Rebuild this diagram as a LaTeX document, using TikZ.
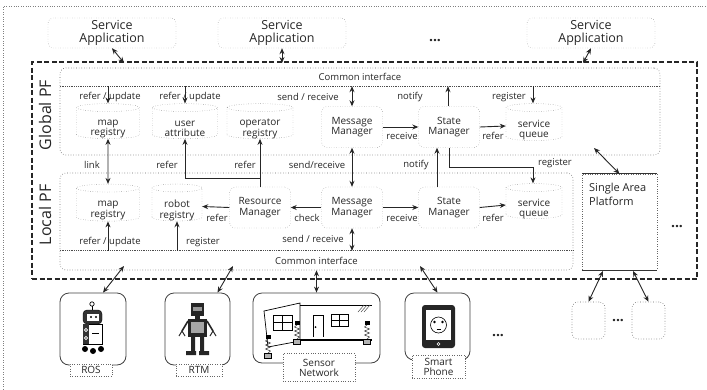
\documentclass[tikz,border=0pt]{standalone}
\usepackage{fontspec}
\setmainfont{Open Sans}
\usetikzlibrary{shapes.geometric,arrows.meta}

\begin{document}
\begin{tikzpicture}[x=1pt, y=-1pt, >={Stealth[length=6pt,width=5pt]},
	every node/.style={font=\fontsize{9.5}{10}\selectfont, text=black!85, inner sep=0pt},
	app/.style={draw=black!60, dotted, rounded corners=5pt, minimum width=128pt, minimum height=30pt, align=center, font=\fontsize{12.5}{13}\selectfont},
	area/.style={draw=black!60, dotted, line width=0.6pt, rounded corners=6pt},
	db/.style={cylinder, shape border rotate=90, aspect=0.22, inner xsep=18pt, draw=black!60, dotted, label={[align=center, font=\fontsize{10}{10.5}\selectfont, yshift=-4pt]center:{#1}}},
	mgr/.style={draw=black!60, dotted, rounded corners=6pt, minimum width=61pt, minimum height=41pt, align=center, font=\fontsize{10}{10.5}\selectfont},
	dev/.style={draw=black!75, line width=0.8pt, rounded corners=9pt},
	tag/.style={draw=black!60, dotted, fill=white, align=center, font=\fontsize{10}{10}\selectfont},
	conn/.style={black!85, line width=0.9pt},
	ifline/.style={black!70, densely dotted, line width=0.8pt},
	more/.style={font=\fontsize{14}{14}\bfseries}]
	\useasboundingbox (0,0) rectangle (707,389);
	\draw[black!50, dotted] (3,389) -- (3,6) -- (707,6);

	\node[app] (sa1) at (112,33) {Service\\Application};
	\node[app] (sa2) at (282,33) {Service\\Application};
	\node[app] (sa3) at (591,33) {Service\\Application};
	\node[more] (dots1) at (435,41) {...};

	\node[draw=black!85, line width=1.6pt, dash pattern=on 5pt off 2.5pt, minimum width=665pt, minimum height=217pt] (pf) at (364.5,170.5) {};

	\node[area, minimum width=600pt, minimum height=87pt] (gpf) at (360,111.5) {};
	\node[rotate=90, font=\fontsize{16}{16}\selectfont] (gname) at (45,115) {Global PF};
	\node[minimum width=600pt, minimum height=18pt] (gci) at (360,77) {Common interface};
	\draw[ifline] (gci.south west) -- (gci.south east);
	\node[db={map\\registry}, minimum width=63pt, minimum height=35pt] (gmap) at (108,125) {};
	\node[db={user\\attribute}, minimum width=65pt, minimum height=35pt] (guser) at (185,125) {};
	\node[db={operator\\registry}, minimum width=66pt, minimum height=35pt] (gop) at (260,125) {};
	\node[mgr] (gmsg) at (352,127) {Message\\Manager};
	\node[mgr] (gstate) at (449,127) {State\\Manager};
	\node[db={service\\queue}, minimum width=56pt, minimum height=37pt] (gqueue) at (534,126) {};

	\node[area, minimum width=513pt, minimum height=97pt] (lpf) at (316.5,221.5) {};
	\node[rotate=90, font=\fontsize{16}{16}\selectfont] (lname) at (45,215) {Local PF};
	\node[minimum width=513pt, minimum height=20pt] (lci) at (316.5,261) {Common interface};
	\draw[ifline] (lci.north west) -- (lci.north east);
	\node[db={map\\registry}, minimum width=63pt, minimum height=37pt] (lmap) at (108,206.5) {};
	\node[db={robot\\registry}, minimum width=50pt, minimum height=37pt] (lrobot) at (177,206.5) {};
	\node[mgr] (lres) at (260,207.5) {Resource\\Manager};
	\node[mgr] (lmsg) at (352,207.5) {Message\\Manager};
	\node[mgr] (lstate) at (449,207.5) {State\\Manager};
	\node[db={service\\queue}, minimum width=56pt, minimum height=35pt] (lqueue) at (534,205) {};

	\node[draw=black!60, dotted, minimum width=75pt, minimum height=96pt] (sap) at (619.5,222) {};
	\draw[black!80, line width=0.8pt] (sap.north west) -- (sap.north east) (sap.south west) -- (sap.south east);
	\node[anchor=north west, align=left, font=\fontsize{11}{14}\selectfont] (saptext) at (589,183) {Single Area\\Platform};
	\node[more] (dots4) at (677,227) {...};

	\node (t1) at (110,97) {refer / update};
	\node (t2) at (190,97) {refer / update};
	\node (t3) at (308,97) {send / receive};
	\node (t4) at (410,97) {notify};
	\node (t5) at (509,97) {register};
	\node (t6) at (402,136) {receive};
	\node (t7) at (493,136) {refer};
	\node (t8) at (92,165) {link};
	\node (t9) at (167,165) {refer};
	\node (t10) at (245,165) {refer};
	\node (t11) at (317,165) {send/receive};
	\node (t12) at (416,165) {notify};
	\node (t13) at (555,163) {register};
	\node (t14) at (217,218) {refer};
	\node (t15) at (307,218) {check};
	\node (t16) at (402,218) {receive};
	\node (t17) at (493,218) {refer};
	\node (t18) at (110,242) {refer / update};
	\node (t19) at (203,242) {register};
	\node (t20) at (313,239) {send / receive};

	\draw[conn,->] (gmap.north |- gci.south) -- (gmap.north);
	\draw[conn,->] (guser.north |- gci.south) -- (guser.north);
	\draw[conn,<->] (gmsg.north |- gci.south) -- (gmsg.north);
	\draw[conn,->] ([xshift=-1pt]gstate.north) -- ([xshift=-1pt]gstate.north |- gci.south);
	\draw[conn,->] ([xshift=-1pt]gqueue.north |- gci.south) -- ([xshift=-1pt]gqueue.north);
	\draw[conn,->] (gmsg.east) -- (gstate.west);
	\draw[conn,->] (gstate.east) -- (gqueue.west);

	\coordinate (rbend) at (260,178);
	\draw[conn,<->] (gmap.south) -- (lmap.north);
	\draw[conn,->] (lres.north) -- (gop.south);
	\draw[conn,->] (rbend) -| (guser.south);
	\draw[conn,<->] (gmsg.south) -- (lmsg.north);
	\draw[conn,->] ([xshift=-12pt]lstate.north) -- ([xshift=-12pt]gstate.south);
	\draw[conn,->] (gstate.south) -- ++(0,20) -| ([xshift=-1pt]lqueue.north);

	\draw[conn,->] (lres.west) -- (lrobot.east);
	\draw[conn,->] (lmsg.west) -- (lres.east);
	\draw[conn,->] (lmsg.east) -- (lstate.west);
	\draw[conn,->] (lstate.east) -- (lqueue.west);
	\draw[conn,->] (lmap.south |- lci.north) -- (lmap.south);
	\draw[conn,->] (lrobot.south |- lci.north) -- (lrobot.south);
	\draw[conn,<->] (lmsg.south) -- (lmsg.south |- lci.north);

	\node[dev, minimum width=66pt, minimum height=72pt] (ros) at (93,329) {};
	\node[dev, minimum width=65pt, minimum height=72pt] (rtm) at (197.5,329) {};
	\node[dev, minimum width=127pt, minimum height=70pt] (sensor) at (316.5,328) {};
	\node[dev, minimum width=65pt, minimum height=67pt] (phone) at (437.5,326.5) {};
	\node[more] (dots2) at (498,336) {...};
	\node[area, minimum width=33pt, minimum height=37pt] (sub1) at (588.5,320.5) {};
	\node[area, minimum width=33pt, minimum height=37pt] (sub2) at (648.5,320.5) {};
	\node[more] (dots3) at (618,321) {...};

	\draw[black, line width=0.7pt] (92,306) -- (92,310);
	\draw[black, fill=white, line width=0.7pt] (92,304) circle (2.2);
	\draw[black, fill=black!80, rounded corners=4pt] (83,310) rectangle (102,324);
	\fill[white] (87,314) rectangle (99,321);
	\fill[black] (91,317) circle (1.2) (96,317) circle (1.2);
	\draw[black, fill=white, line width=0.7pt] (83,324) rectangle (102,344);
	\fill[black!80] (83,324) rectangle (89,344);
	\draw[white, fill=black!40] (86,330) circle (1.8) (86,338) circle (1.8);
	\draw[black] (92,333) -- (99,333);
	\fill[black] (85,349) circle (3) (93,351) circle (3) (101,349) circle (3);

	\fill[black!85] (191,303) rectangle (204,316);
	\fill[black!40] (193,307) rectangle (202,311);
	\fill[black!85] (195,316) rectangle (200,319);
	\fill[black!85] (188,319) rectangle (207,337);
	\fill[black!35] (191,322) rectangle (204,333);
	\draw[black!85, line width=1.6pt] (188,321) -- (182,331) (207,321) -- (213,331);
	\draw[black!85, line width=1pt] (179,336) -- (182,331) -- (185,336) (210,336) -- (213,331) -- (216,336);
	\fill[black!85] (191,337) rectangle (195,351) (200,337) rectangle (204,351);
	\fill[black!85] (186,351) rectangle (196,355) (199,351) rectangle (209,355);

	\draw[black, fill=white, line width=0.7pt] (264,311) -- (300,303) -- (300,341) -- (268,347) -- cycle;
	\draw[black, line width=0.6pt] (273,315) rectangle (292,330) (282.5,315) -- (282.5,330) (273,322.5) -- (292,322.5);
	\draw[black, line width=0.6pt] (300,305) -- (372,305);
	\draw[black, line width=1.4pt] (300,340) -- (372,340);
	\draw[black, line width=0.6pt] (313,337) -- (313,315) -- (323,315) -- (323,337);
	\fill[black] (315.5,327) circle (1);
	\draw[black, line width=0.6pt] (331,314) rectangle (348,326) (339.5,314) -- (339.5,326) (331,320) -- (348,320);
	\draw[black!70, line width=0.5pt] (358,312) -- (364,305) (361,312) -- (367,305) (364,312) -- (370,305);
	\foreach \sx/\sy in {268/335, 297/321, 367/321} {
		\fill[black] (\sx-2.5,\sy) rectangle (\sx+2.5,\sy+4);
		\draw[black!80, line width=0.5pt] (\sx,\sy+4) -- (\sx-2.5,\sy+6) -- (\sx+2.5,\sy+8) -- (\sx-2.5,\sy+10) -- (\sx+2.5,\sy+12) -- (\sx-2.5,\sy+14) -- (\sx+2.5,\sy+16) -- (\sx,\sy+18);
		\draw[black, fill=black!30, line width=0.6pt] (\sx-3.5,\sy+18) rectangle (\sx+3.5,\sy+23);
	}

	\fill[black!85, rounded corners=3pt] (422,305) rectangle (455,348);
	\fill[white] (426,310) rectangle (451,340);
	\draw[black, line width=0.6pt] (438.5,325) circle (8);
	\fill[black] (434.5,322) circle (1.4) (442.5,322) circle (1.4);
	\draw[black, line width=0.5pt] (436.5,329) -- (440.5,329);
	\draw[white, line width=0.5pt] (438.5,344) circle (1.5);

	\node[tag, minimum width=42pt, minimum height=12pt] (rostag) at (91,370) {ROS};
	\node[tag, minimum width=46pt, minimum height=12pt] (rtmtag) at (199,370) {RTM};
	\node[tag, minimum width=72pt, minimum height=28pt] (sensortag) at (319,367.5) {Sensor\\Network};
	\node[tag, minimum width=53pt, minimum height=23pt] (phonetag) at (438.5,366.5) {Smart\\Phone};

	\coordinate (pa1) at (124,63);
	\coordinate (pa2) at (282,63);
	\coordinate (pa3) at (583,63);
	\coordinate (ga) at (594,148);
	\coordinate (la1) at (124,266);
	\coordinate (la2) at (233,266);
	\coordinate (la4) at (420,266);
	\coordinate (sb1) at (603,271);
	\coordinate (sb2) at (633,271);
	\draw[conn,<->] (sa1.south) -- (pa1);
	\draw[conn,<->] (sa2.south) -- (pa2);
	\draw[conn,<->] (sa3.south) -- (pa3);
	\draw[conn,<->] (ga) -- (sap.north);
	\draw[conn,<->] (la1) -- ([xshift=10pt]ros.north);
	\draw[conn,<->] (la2) -- ([xshift=20pt]rtm.north);
	\draw[conn,<->] (sensor.north |- lpf.south) -- (sensor.north);
	\draw[conn,<->] (la4) -- (phone.north);
	\draw[conn,<->] (sb1) -- (sub1.north);
	\draw[conn,<->] (sb2) -- (sub2.north);
\end{tikzpicture}
\end{document}
